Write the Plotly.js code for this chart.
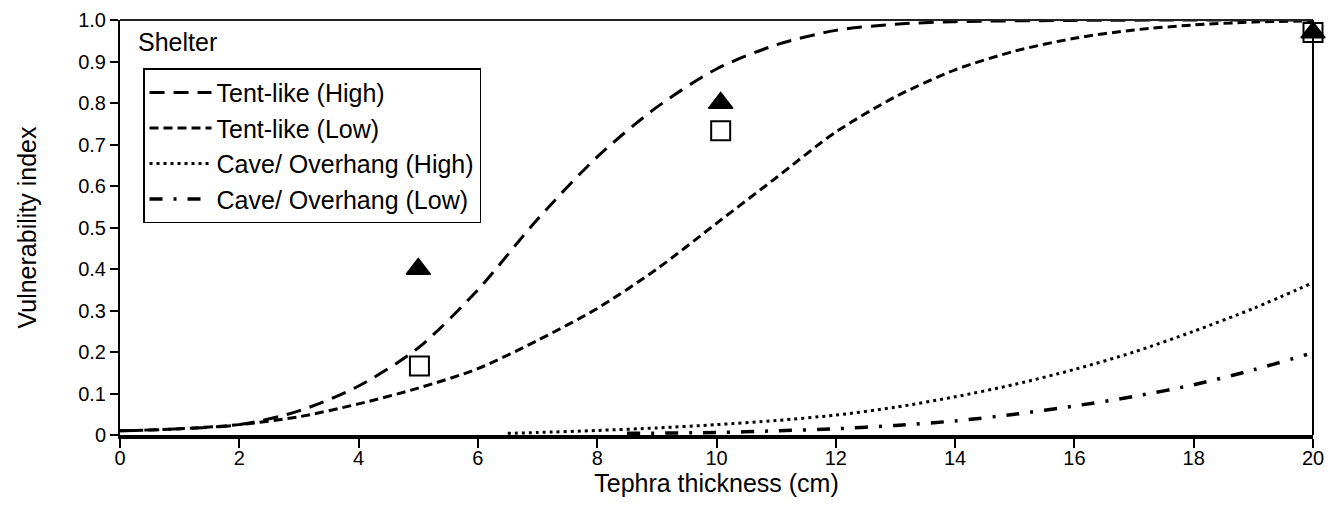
<!DOCTYPE html>
<html>
<head>
<meta charset="utf-8">
<script src="https://cdn.plot.ly/plotly-3.0.1.min.js"></script>
<style>
  html, body { margin: 0; padding: 0; background: #fff; }
  #chart { width: 1341px; height: 507px; }
</style>
</head>
<body>
<div id="chart"></div>
<script>
// Vulnerability curves for shelter types versus tephra thickness (cm)
const tentHighX = [0, 1, 2, 3, 4, 5, 6, 7, 8, 9, 10, 11, 12, 13, 14, 16, 18, 20];
const tentHighY = [0.01, 0.015, 0.025, 0.058, 0.118, 0.21, 0.35, 0.52, 0.67, 0.79, 0.882, 0.94, 0.975, 0.99, 0.996, 0.999, 1.0, 1.0];

const tentLowX = [0, 1, 2, 3, 4, 5, 6, 7, 8, 9, 10, 11, 12, 13, 14, 15, 16, 17, 18, 19, 20];
const tentLowY = [0.01, 0.015, 0.025, 0.044, 0.075, 0.113, 0.16, 0.228, 0.305, 0.4, 0.51, 0.62, 0.73, 0.815, 0.88, 0.925, 0.956, 0.976, 0.988, 0.995, 0.998];

const caveHighX = [6.5, 7, 8, 9, 10, 11, 12, 13, 14, 15, 16, 17, 18, 19, 20];
const caveHighY = [0.004, 0.006, 0.011, 0.017, 0.025, 0.035, 0.048, 0.067, 0.092, 0.122, 0.158, 0.2, 0.25, 0.305, 0.367];

const caveLowX = [8.5, 10, 11, 12, 13, 14, 15, 16, 17, 18, 19, 19.9];
const caveLowY = [0.004, 0.006, 0.01, 0.015, 0.023, 0.034, 0.05, 0.07, 0.093, 0.121, 0.157, 0.194];

// Observed points
const obsHighX = [5.0, 10.07, 20];
const obsHighY = [0.40, 0.80, 0.97];
const obsLowX = [5.02, 10.07, 20];
const obsLowY = [0.166, 0.733, 0.97];

const yTickVals = [0, 0.1, 0.2, 0.3, 0.4, 0.5, 0.6, 0.7, 0.8, 0.9, 1.0];
const yTickText = ['0', '0.1', '0.2', '0.3', '0.4', '0.5', '0.6', '0.7', '0.8', '0.9', '1.0'];
const xTickVals = [0, 2, 4, 6, 8, 10, 12, 14, 16, 18, 20];

const FONT = 'Liberation Sans, Arial, sans-serif';

function curve(x, y, name, dash, width, group) {
  return {
    x: x, y: y, name: name, type: 'scatter', mode: 'lines',
    legendgroup: group,
    line: { color: '#000', width: width, dash: dash, shape: 'spline', smoothing: 0.8 },
    hoverinfo: 'skip'
  };
}

const traces = [
  curve(tentHighX, tentHighY, 'Tent-like (High)', '15px,9px', 3, 'g1'),
  curve(tentLowX, tentLowY, 'Tent-like (Low)', '9px,5px', 3, 'g2'),
  curve(caveHighX, caveHighY, 'Cave/ Overhang (High)', '3px,4px', 3, 'g3'),
  curve(caveLowX, caveLowY, 'Cave/ Overhang (Low)', '13px,11px,3px,11px', 3.5, 'g4'),
  {
    x: obsLowX, y: obsLowY, type: 'scatter', mode: 'markers', showlegend: false,
    cliponaxis: false, hoverinfo: 'skip',
    marker: { symbol: 'square-open', size: 19, color: '#000', line: { width: 2, color: '#000' } }
  },
  {
    x: obsHighX, y: obsHighY, type: 'scatter', mode: 'markers', showlegend: false,
    cliponaxis: false, hoverinfo: 'skip',
    marker: { symbol: 'triangle-up', size: 21, color: '#000', line: { width: 1.5, color: '#000' } }
  }
];

const layout = {
  width: 1341, height: 507,
  margin: { l: 120, r: 28, t: 20, b: 72, pad: 0 },
  paper_bgcolor: '#fff', plot_bgcolor: '#fff',
  font: { family: FONT, size: 20, color: '#000' },
  showlegend: true,
  legend: {
    x: 0.0193, y: 0.884, xanchor: 'left', yanchor: 'top',
    bgcolor: '#fff', bordercolor: '#000', borderwidth: 1.5,
    font: { family: FONT, size: 25, color: '#000' },
    tracegroupgap: 1, traceorder: 'normal', itemwidth: 62
  },
  xaxis: {
    range: [0, 20], tickvals: xTickVals, ticks: 'outside', ticklen: 9, tickwidth: 2,
    tickcolor: '#000', showgrid: false, zeroline: false,
    showline: true, linecolor: '#000', linewidth: 4, mirror: false,
    ticklabelstandoff: -7,
    tickfont: { family: FONT, size: 20, color: '#000' },
    title: { text: 'Tephra thickness (cm)', font: { family: FONT, size: 25, color: '#000' }, standoff: 0 },
    automargin: false
  },
  yaxis: {
    range: [0, 1], tickvals: yTickVals, ticktext: yTickText, ticks: 'outside', ticklen: 8, tickwidth: 2,
    tickcolor: '#000', showgrid: false, zeroline: false,
    showline: true, linecolor: '#000', linewidth: 2, mirror: false,
    tickfont: { family: FONT, size: 20, color: '#000' },
    title: { text: 'Vulnerability index', font: { family: FONT, size: 25, color: '#000' }, standoff: 34 },
    automargin: false
  },
  shapes: [
    { type: 'line', xref: 'paper', yref: 'paper', x0: 0, x1: 1, y0: 1, y1: 1, line: { color: '#222', width: 2 } },
    { type: 'line', xref: 'paper', yref: 'paper', x0: 1, x1: 1, y0: 0, y1: 1, line: { color: '#000', width: 2 } }
  ],
  annotations: [
    { text: 'Shelter', xref: 'paper', yref: 'paper', x: 0.0134, y: 0.947, xanchor: 'left', yanchor: 'middle',
      showarrow: false, font: { family: FONT, size: 25, color: '#000' } }
  ]
};

Plotly.newPlot('chart', traces, layout, { displayModeBar: false, staticPlot: true });
</script>
</body>
</html>
